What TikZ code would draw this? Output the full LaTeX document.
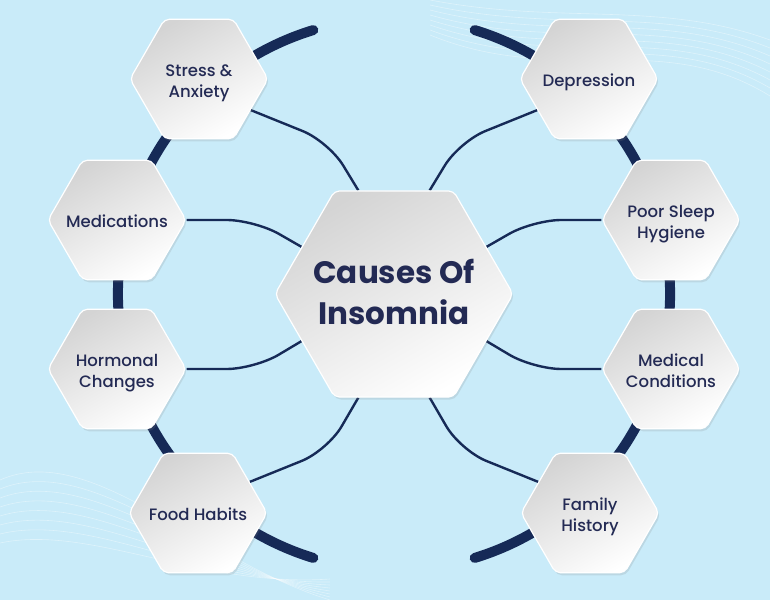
\documentclass[tikz,border=0pt]{standalone}
\usepackage{fontspec}
\setmainfont{Poppins}
\newfontfamily\popmed{Poppins Medium}
\usetikzlibrary{shapes.geometric,shadows,backgrounds}

\definecolor{skyblue}{HTML}{C9EBF9}
\definecolor{navy}{HTML}{162A57}
\definecolor{ink}{HTML}{232A54}
\pgfdeclarelayer{bg}
\pgfsetlayers{bg,background,main}
\newcommand{\hexlbl}[1]{\makebox[0pt]{\raisebox{-8pt}[0pt][0pt]{\begin{tabular}{@{}c@{}}#1\end{tabular}}}}

\begin{document}
\begin{tikzpicture}[x=1pt,y=1pt,
hexnode/.style={regular polygon, regular polygon sides=6, minimum size=138pt, inner sep=0pt,
  rounded corners=5pt, draw=white, line width=1.2pt, top color=black!17, bottom color=white,
  shading angle=30, drop shadow={opacity=0.18, shadow xshift=1.5pt, shadow yshift=-2.5pt},
  text=ink, font=\popmed\fontsize{16.5}{21}\selectfont},
corehex/.style={hexnode, minimum size=238pt, font=\fontsize{31}{41}\selectfont\bfseries},
link/.style={navy, line width=2.4pt, rounded corners=28pt},
ring/.style={navy, line width=10pt, line cap=round},
wave/.style={white, opacity=0.4, line width=0.6pt},
]
\useasboundingbox (0,0) rectangle (770,600);

%Background
\begin{pgfonlayer}{bg}
\fill[skyblue] (0,0) rectangle (770,600);
\foreach \k in {0,...,7}
  \draw[wave] (430,600-\k*5) .. controls (560,575-\k*9) and (660,600-\k*4) .. (770,560-\k*8);
\foreach \k in {0,...,7}
  \draw[wave] (0,120-\k*9) .. controls (90,160-\k*12) and (200,40-\k*4) .. (330,0+\k*3);
\end{pgfonlayer}

%Nodes
\node[corehex]  (core)   at (394,306) {\hexlbl{Causes Of\\Insomnia}};
\node[hexnode]  (stress) at (199,521) {\hexlbl{Stress \&\\Anxiety}};
\node[hexnode]  (meds)   at (117,380) {\hexlbl{Medications}};
\node[hexnode]  (horm)   at (117,231) {\hexlbl{Hormonal\\Changes}};
\node[hexnode]  (food)   at (198,87)  {\hexlbl{Food Habits}};
\node[hexnode]  (depr)   at (589,521) {\hexlbl{Depression}};
\node[hexnode]  (sleep)  at (671,380) {\hexlbl{Poor Sleep\\Hygiene}};
\node[hexnode]  (medc)   at (671,231) {\hexlbl{Medical\\Conditions}};
\node[hexnode]  (fam)    at (590,87)  {\hexlbl{Family\\History}};

%Ring and links
\begin{pgfonlayer}{background}
\draw[ring] (core.center) ++(107:276pt) arc[start angle=107, end angle=253, radius=276pt];
\draw[ring] (core.center) ++(73:276pt) arc[start angle=73, end angle=-73, radius=276pt];
\draw[link] (stress.-31) -- ++(-22:84pt) -- (core.109);
\draw[link] (meds.0) -- ++(68pt,0) -- (core.153);
\draw[link] (horm.0) -- ++(68pt,0) -- (core.-153);
\draw[link] (food.31) -- ++(22:84pt) -- (core.-109);
\draw[link] (depr.-149) -- ++(-158:84pt) -- (core.71);
\draw[link] (sleep.180) -- ++(-68pt,0) -- (core.27);
\draw[link] (medc.180) -- ++(-68pt,0) -- (core.-27);
\draw[link] (fam.149) -- ++(158:84pt) -- (core.-71);
\end{pgfonlayer}
\end{tikzpicture}
\end{document}
